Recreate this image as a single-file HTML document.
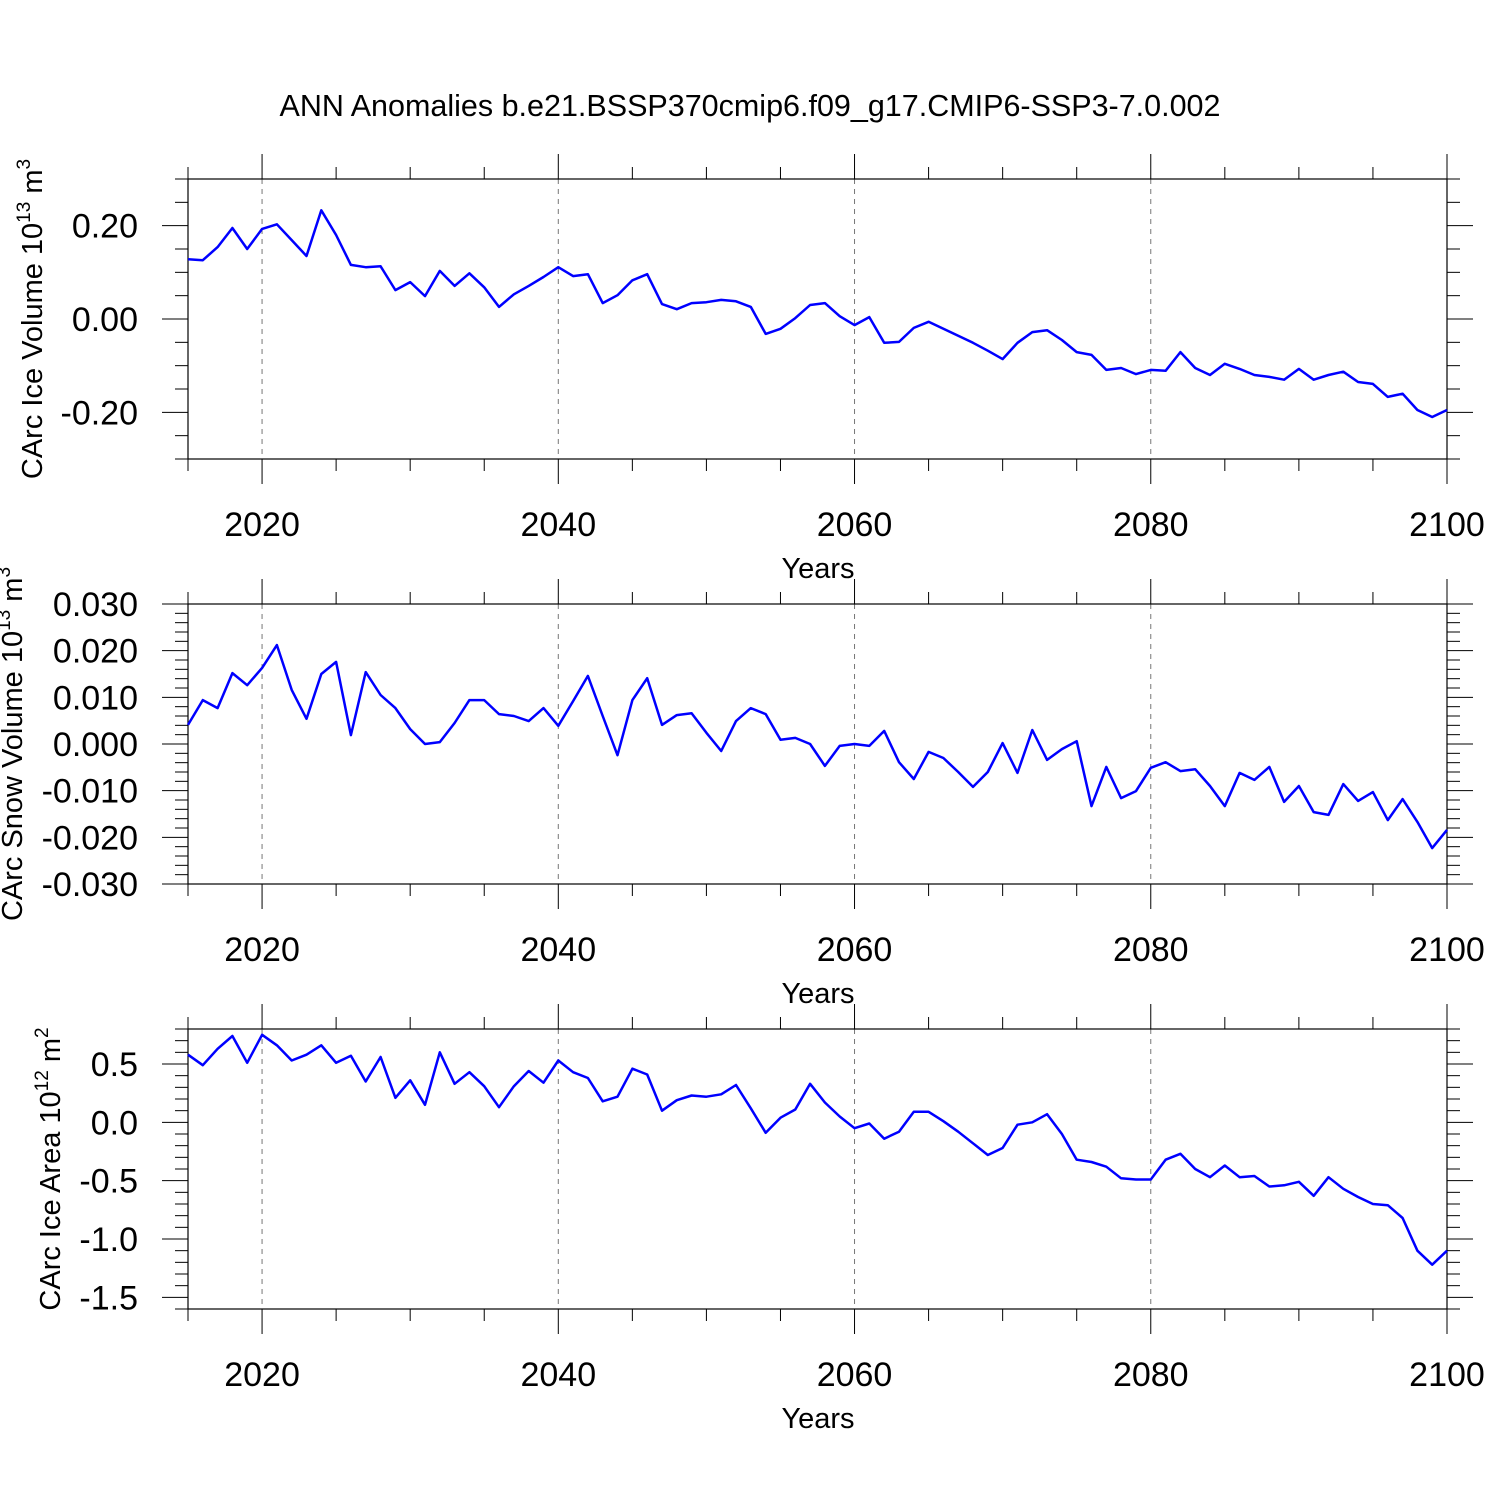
<!DOCTYPE html>
<html><head><meta charset="utf-8"><style>
body{margin:0;background:#fff}
svg{display:block;font-family:"Liberation Sans",sans-serif}
</style></head><body>
<svg id="chart" width="1500" height="1500" viewBox="0 0 1500 1500" xmlns="http://www.w3.org/2000/svg">
<text x="750" y="116" text-anchor="middle" font-size="30.5">ANN Anomalies b.e21.BSSP370cmip6.f09_g17.CMIP6-SSP3-7.0.002</text>
</svg>
<script>
const years = [];
for (let y = 2015; y <= 2100; y++) years.push(y);
const iceVolume = [0.128,0.126,0.154,0.195,0.150,0.193,0.203,0.169,0.135,0.233,0.180,0.116,0.111,0.113,0.062,0.079,0.049,0.103,0.071,0.098,0.068,0.026,0.053,0.071,0.090,0.111,0.092,0.096,0.034,0.051,0.083,0.096,0.032,0.021,0.034,0.036,0.041,0.038,0.026,-0.032,-0.021,0.002,0.030,0.034,0.006,-0.013,0.004,-0.051,-0.049,-0.019,-0.006,-0.021,-0.036,-0.051,-0.068,-0.086,-0.051,-0.028,-0.024,-0.045,-0.071,-0.077,-0.109,-0.105,-0.118,-0.109,-0.111,-0.071,-0.105,-0.120,-0.096,-0.107,-0.120,-0.124,-0.130,-0.107,-0.130,-0.120,-0.113,-0.135,-0.139,-0.167,-0.160,-0.195,-0.210,-0.195];
const snowVolume = [4.1,9.4,7.7,15.2,12.6,16.3,21.2,11.6,5.4,15.0,17.6,1.9,15.4,10.5,7.7,3.2,0,0.4,4.5,9.4,9.4,6.4,6.0,4.9,7.7,3.9,9.2,14.6,6.0,-2.4,9.4,14.1,4.1,6.2,6.6,2.4,-1.5,4.9,7.7,6.4,0.9,1.3,0,-4.7,-0.4,0,-0.4,2.8,-3.9,-7.5,-1.7,-3.0,-6.0,-9.2,-6.0,0.2,-6.2,3.0,-3.4,-1.1,0.6,-13.3,-4.9,-11.6,-10.1,-5.1,-3.9,-5.8,-5.4,-9.0,-13.3,-6.2,-7.7,-4.9,-12.4,-9.0,-14.6,-15.2,-8.6,-12.2,-10.3,-16.3,-11.8,-16.7,-22.3,-18.4].map(v=>v/1000);
const iceArea = [0.58,0.49,0.63,0.74,0.51,0.75,0.66,0.53,0.58,0.66,0.51,0.57,0.35,0.56,0.21,0.36,0.15,0.60,0.33,0.43,0.31,0.13,0.31,0.44,0.34,0.53,0.43,0.38,0.18,0.22,0.46,0.41,0.10,0.19,0.23,0.22,0.24,0.32,0.12,-0.09,0.04,0.11,0.33,0.17,0.05,-0.05,-0.01,-0.14,-0.08,0.09,0.09,0.01,-0.08,-0.18,-0.28,-0.22,-0.02,0.00,0.07,-0.10,-0.32,-0.34,-0.38,-0.48,-0.49,-0.49,-0.32,-0.27,-0.40,-0.47,-0.37,-0.47,-0.46,-0.55,-0.54,-0.51,-0.63,-0.47,-0.57,-0.64,-0.70,-0.71,-0.82,-1.10,-1.22,-1.10];
const xTickLabels = ["2020","2040","2060","2080","2100"];
const iceVolTicks = ["0.20","0.00","-0.20"];
const snowTicks = ["0.030","0.020","0.010","0.000","-0.010","-0.020","-0.030"];
const areaTicks = ["0.5","0.0","-0.5","-1.0","-1.5"];

const NS = "http://www.w3.org/2000/svg";
const svg = document.getElementById('chart');
const X0 = 188, X1 = 1447, YR0 = 2015, YR1 = 2100;
const xs = yr => X0 + (yr - YR0) / (YR1 - YR0) * (X1 - X0);
function mk(tag, attrs, parent) {
  const e = document.createElementNS(NS, tag);
  for (const k in attrs) e.setAttribute(k, attrs[k]);
  (parent || svg).appendChild(e);
  return e;
}
function panel(name, top, ymin, ymax, vals, ticks, minorStep, ylabel, sup, unit, labelX) {
  const bot = top + 280;
  const ys = v => bot - (v - ymin) / (ymax - ymin) * 280;
  const g = mk('g', {});
  
  
  for (const t of xTickLabels) {
    const x = xs(+t);
    if (x < X1 - 1) { const l = mk('line', {x1:x, x2:x, y1:top, y2:bot, stroke:'#777', 'stroke-width':1, 'stroke-dasharray':'5,5'}, g);
      
       }
  }
  for (let yr = 2015; yr <= 2100; yr += 5) {
    const x = xs(yr), major = yr % 20 === 0, len = major ? 25 : 12;
    mk('line', {x1:x, x2:x, y1:top, y2:top - len, stroke:'#000', 'stroke-width':1}, g);
    mk('line', {x1:x, x2:x, y1:bot, y2:bot + len, stroke:'#000', 'stroke-width':1}, g);
  }
  const nMin = Math.round((ymax - ymin) / minorStep);
  for (let i = 0; i <= nMin; i++) {
    const v = ymin + i * minorStep, y = ys(v);
    const major = ticks.some(t => Math.abs(+t - v) < minorStep / 10);
    const len = major ? 26 : 13;
    mk('line', {x1:X0, x2:X0 - len, y1:y, y2:y, stroke:'#000', 'stroke-width':1}, g);
    mk('line', {x1:X1, x2:X1 + len, y1:y, y2:y, stroke:'#000', 'stroke-width':1}, g);
  }
  for (const t of ticks) {
    const tx = mk('text', {x:138, y:ys(+t) + 12, 'text-anchor':'end', 'font-size':34}, g);
    tx.textContent = t;
    
    
  }
  for (const t of xTickLabels) {
    const tx = mk('text', {x:xs(+t), y:bot + 77, 'text-anchor':'middle', 'font-size':34}, g);
    tx.textContent = t;
    
    
  }
  const xt = mk('text', {x:818, y:bot + 119, 'text-anchor':'middle', 'font-size':29}, g);
  xt.textContent = 'Years';
  
  
  const yt = mk('text', {transform:`translate(${labelX},${top+140}) rotate(-90)`, 'text-anchor':'middle', 'font-size':29}, g);
  
  
  const s1 = mk('tspan', {}, yt); s1.textContent = ylabel + ' 10';
  const s2 = mk('tspan', {dy:-12, 'font-size':19}, yt); s2.textContent = sup;
  const s3 = mk('tspan', {dy:12}, yt); s3.textContent = ' m';
  const s4 = mk('tspan', {dy:-12, 'font-size':19}, yt); s4.textContent = unit;
  mk('rect', {x:X0, y:top, width:X1 - X0, height:280, fill:'none', stroke:'#000', 'stroke-width':1.2}, g);
  const pts = vals.map((v, i) => xs(years[i]).toFixed(1) + ',' + ys(v).toFixed(1)).join(' ');
  const pl = mk('polyline', {points:pts, fill:'none', stroke:'#0000ff', 'stroke-width':2.5, 'stroke-linejoin':'round'}, g);
  
  
}
panel('ice-volume', 179, -0.3, 0.3, iceVolume, iceVolTicks, 0.05, 'CArc Ice Volume', '13', '3', 42);
panel('snow-volume', 604, -0.03, 0.03, snowVolume, snowTicks, 0.002, 'CArc Snow Volume', '13', '3', 22);
panel('ice-area', 1029, -1.6, 0.8, iceArea, areaTicks, 0.1, 'CArc Ice Area', '12', '2', 60);
</script>
</body></html>
